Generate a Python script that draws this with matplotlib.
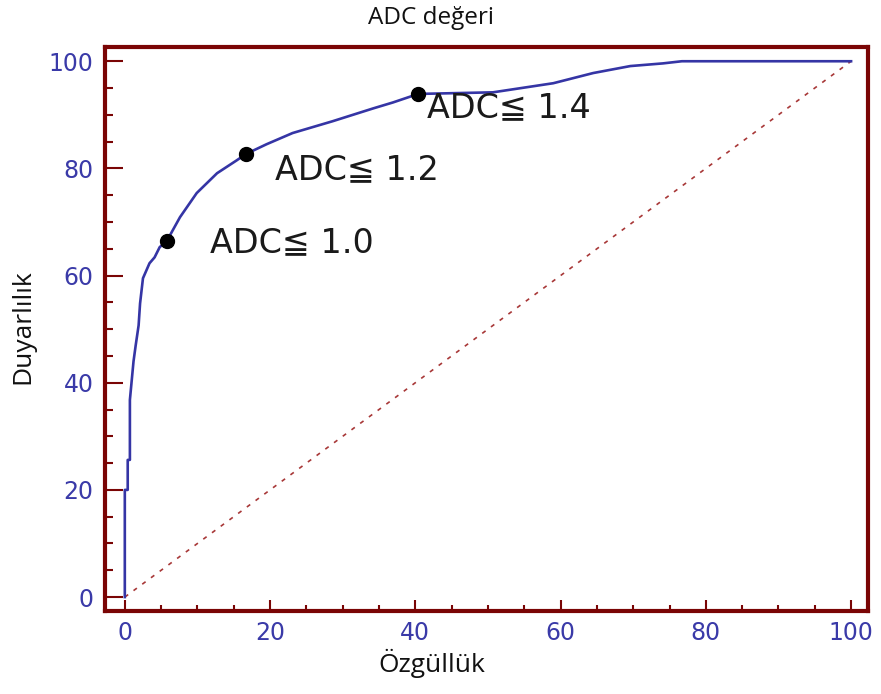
import matplotlib.pyplot as plt
from matplotlib.ticker import MultipleLocator

# ROC curve (x = 100 - specificity axis label "Özgüllük", y = "Duyarlılık")
roc_x = [0, 0, 0.4, 0.4, 0.7, 0.7, 1.2, 1.5, 1.9, 2.1, 2.5, 3.4, 4.1, 4.8, 5.8,
         7.6, 9.9, 12.7, 15.4, 16.7, 19.5, 23.1, 28.6, 34.2, 36.9, 40.4,
         50.7, 59.0, 64.5, 69.6, 74.1, 76.7, 100]
roc_y = [0, 20, 20, 25.6, 25.6, 36.8, 44, 47, 50.7, 54.8, 59.5, 62.3, 63.4, 65.3, 66.5,
         70.9, 75.4, 79.1, 81.5, 82.7, 84.5, 86.6, 88.8, 91.2, 92.3, 93.9,
         94.2, 95.9, 97.8, 99.1, 99.6, 100, 100]

cut_x = [5.8, 16.7, 40.4]
cut_y = [66.5, 82.7, 93.9]
cut_labels = ['ADC≦ 1.0', 'ADC≦ 1.2', 'ADC≦ 1.4']
label_x = [11.7, 20.7, 41.6]
label_y = [66.2, 79.7, 91.4]

ref_x = [0, 100]
ref_y = [0, 100]

frame = '#7a0505'
tick_blue = '#3a3aa8'

fig = plt.figure(figsize=(8.81, 6.94), dpi=100)
ax = fig.add_axes([0.119, 0.1196, 0.866, 0.813])

ax.plot(ref_x, ref_y, color='#a83838', lw=1.2, dashes=(2.5, 4))
ax.plot(roc_x, roc_y, color='#3535a5', lw=1.9)
ax.plot(cut_x, cut_y, 'o', color='black', ms=10)

for tx, ty, s in zip(label_x, label_y, cut_labels):
    ax.text(tx, ty, s, fontsize=24, va='center', ha='left', color='#1a1a1a',
            family=['DejaVu Sans'])

ax.set_xlim(-2.75, 102.3)
ax.set_ylim(-2.6, 102.7)
ax.xaxis.set_major_locator(MultipleLocator(20))
ax.yaxis.set_major_locator(MultipleLocator(20))
ax.xaxis.set_minor_locator(MultipleLocator(5))
ax.yaxis.set_minor_locator(MultipleLocator(5))

for s in ax.spines.values():
    s.set_color(frame)
    s.set_linewidth(3)

ax.tick_params(axis='both', which='both', direction='in', color=frame, width=1.5,
               labelcolor=tick_blue, labelsize=17)
ax.tick_params(axis='y', which='major', length=13, pad=8)
ax.tick_params(axis='y', which='minor', length=6)
ax.tick_params(axis='x', which='major', length=8, pad=7)
ax.tick_params(axis='x', which='minor', length=4)

fig.text(431 / 881, 1 - 18 / 694, 'ADC değeri', ha='center', va='center',
         fontsize=17.5, family='Open Sans', color='#111111')
fig.text(432 / 881, 1 - 663 / 694, 'Özgüllük', ha='center', va='center',
         fontsize=19, family='Open Sans', color='#111111')
fig.text(23 / 881, 1 - 327 / 694, 'Duyarlılık', ha='center', va='center',
         rotation=90, fontsize=19, family='Open Sans', color='#111111')

fig.savefig('out.png', dpi=100, facecolor='white')
